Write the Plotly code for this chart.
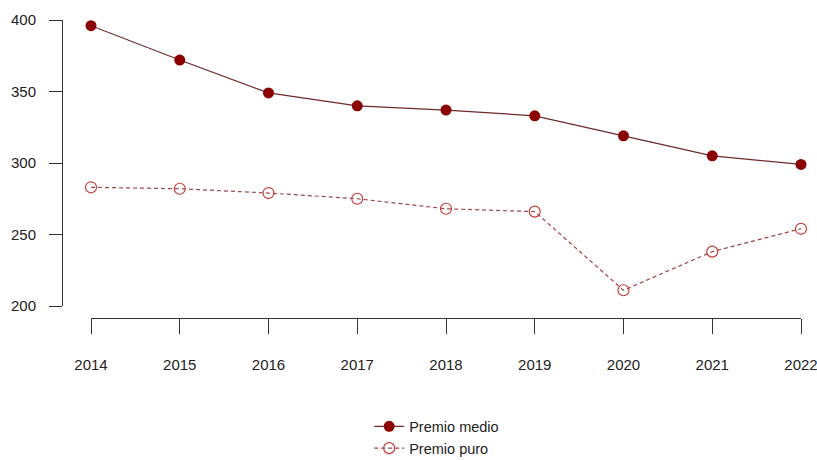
import plotly.graph_objects as go

years = [2014, 2015, 2016, 2017, 2018, 2019, 2020, 2021, 2022]
premio_medio = [396, 372, 349, 340, 337, 333, 319, 305, 299]
premio_puro = [283, 282, 279, 275, 268, 266, 211, 238, 254]
y_ticks = [200, 250, 300, 350, 400]

FONT = "Liberation Sans, Arial, sans-serif"

fig = go.Figure()
fig.add_trace(go.Scatter(
    x=years, y=premio_medio, name="Premio medio", mode="lines+markers",
    line=dict(color="#6e2a2a", width=1.2),
    marker=dict(color="#8b0000", size=11, symbol="circle"),
    cliponaxis=False,
))
fig.add_trace(go.Scatter(
    x=years, y=premio_puro, name="Premio puro", mode="lines+markers",
    line=dict(color="#a34545", width=1.2, dash="4px,3px"),
    marker=dict(color="#c83c3c", size=11, symbol="circle-open",
                line=dict(color="#c83c3c", width=1.2)),
    cliponaxis=False,
))

W, H = 817, 460
l, r, t, b = 62, 16, 20, 142
pw = W - l - r
ph = H - t - b

fig.update_layout(
    width=W, height=H,
    margin=dict(l=l, r=r, t=t, b=b, pad=0, autoexpand=False),
    paper_bgcolor="white", plot_bgcolor="white",
    font=dict(family=FONT, size=15, color="#222222"),
    showlegend=True,
    legend=dict(
        orientation="v", x=0.507, xref="paper", xanchor="center",
        y=-0.31, yanchor="top", font=dict(size=14.5, family=FONT, color="#222222"),
        itemwidth=30, tracegroupgap=0, bgcolor="rgba(0,0,0,0)",
    ),
    xaxis=dict(
        domain=[(91 - l) / pw, 1.0], range=[2014, 2022],
        tickvals=years, ticktext=[str(y) for y in years],
        showline=True, linecolor="#333333", linewidth=1,
        ticks="outside", ticklen=15, tickcolor="#333333", tickwidth=1,
        showgrid=False, zeroline=False,
        anchor="free", position=0, automargin=False,
        ticklabelstandoff=18, ticklabeloverflow="allow",
        tickfont=dict(size=15, family=FONT, color="#222222"),
    ),
    yaxis=dict(
        domain=[(318 - 306) / ph, 1.0], range=[200, 400],
        tickvals=y_ticks,
        showline=True, linecolor="#333333", linewidth=1,
        ticks="outside", ticklen=13, tickcolor="#333333", tickwidth=1,
        showgrid=False, zeroline=False,
        anchor="free", position=0, automargin=False,
        ticklabelstandoff=10,
        tickfont=dict(size=15, family=FONT, color="#222222"),
    ),
)

fig.write_html("out.html", config={"displayModeBar": False},
               post_script="document.body.style.margin='0';")
